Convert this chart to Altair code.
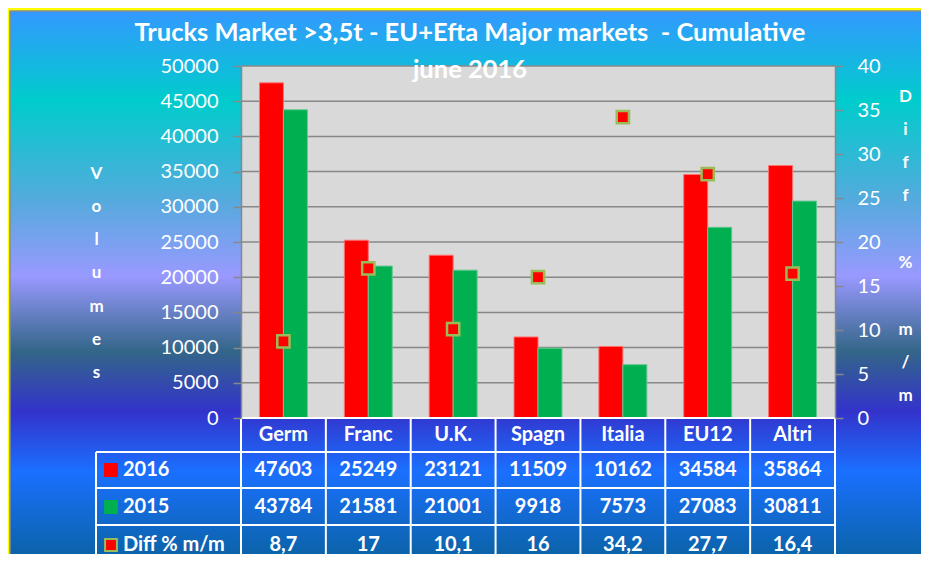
import altair as alt
import pandas as pd

# ---------------- data ----------------
categories = ["Germ", "Franc", "U.K.", "Spagn", "Italia", "EU12", "Altri"]
vol_2016 = [47603, 25249, 23121, 11509, 10162, 34584, 35864]
vol_2015 = [43784, 21581, 21001, 9918, 7573, 27083, 30811]
diff_pct = [8.7, 17, 10.1, 16, 34.2, 27.7, 16.4]
diff_text = ["8,7", "17", "10,1", "16", "34,2", "27,7", "16,4"]
series = ["2016", "2015"]
series_colors = ["#FF0000", "#00B050"]
vol_ticks = list(range(0, 50001, 5000))
diff_ticks = list(range(0, 41, 5))
title_lines = ["Trucks Market >3,5t - EU+Efta Major markets \u00a0- Cumulative", "june 2016"]
left_title = ["V", "o", "l", "u", "m", "e", "s"]
right_title = ["D", "i", "f", "f", "\u2800", "%", "\u2800", "m", "/", "m"]
row_labels = ["2016", "2015", "Diff % m/m"]

# ---------------- layout ----------------
W, H = 594, 352
PL, PT, PR, PB = 233, 58, 86, 136
FONT = "Lato"
GRAY = "#888888"

one = pd.DataFrame({"d": [0]})

bg_gradient = {
    "gradient": "linear", "x1": 0, "y1": 0, "x2": 0, "y2": 1,
    "stops": [
        {"offset": 0.0, "color": "#3399FF"},
        {"offset": 0.164, "color": "#00CCCC"},
        {"offset": 0.348, "color": "#55AADD"},
        {"offset": 0.486, "color": "#9999FF"},
        {"offset": 0.624, "color": "#336688"},
        {"offset": 0.735, "color": "#3333CC"},
        {"offset": 0.845, "color": "#1A70FF"},
        {"offset": 1.0, "color": "#0B63A8"},
    ],
}

background = alt.Chart(one).mark_rect(fill=bg_gradient, stroke="#8A8A8A", strokeWidth=1.5).encode(
    x=alt.value(-PL + 2), x2=alt.value(W + PR + 2), y=alt.value(-PT + 3), y2=alt.value(H + PB + 2)
)

plot_bg = alt.Chart(one).mark_rect(fill="#D9D9D9").encode(
    x=alt.value(0), x2=alt.value(W), y=alt.value(0), y2=alt.value(H)
)

x_enc = alt.X(
    "category:N", sort=categories,
    scale=alt.Scale(domain=categories, paddingInner=0.435, paddingOuter=0.2175),
    axis=None,
)

grid_df = pd.DataFrame({"v": vol_ticks[1:]})
grid = alt.Chart(grid_df).mark_rule(color=GRAY, strokeWidth=1.5).encode(
    y=alt.Y("v:Q", scale=alt.Scale(domain=[0, 50000], nice=False), axis=None)
)

axis_style = dict(
    grid=False, domainColor=GRAY, domainWidth=1.5, tickColor=GRAY, tickSize=8, tickWidth=1.5,
    labelColor="white", labelFont=FONT, labelFontSize=20, labelOverlap=False, format="d",
    titleAngle=0, titleColor="white", titleFont=FONT, titleFontSize=17, titleFontWeight="bold",
    titleLineHeight=33.3, titleAlign="center", titleBaseline="alphabetic", zindex=1,
)

bars_df = pd.DataFrame({
    "category": categories * 2,
    "series": ["2016"] * len(categories) + ["2015"] * len(categories),
    "volume": vol_2016 + vol_2015,
})
bars = alt.Chart(bars_df).mark_bar(strokeWidth=1).encode(
    x=x_enc,
    xOffset=alt.XOffset("series:N", sort=series,
                        scale=alt.Scale(domain=series, paddingInner=0, paddingOuter=0)),
    y=alt.Y("volume:Q", scale=alt.Scale(domain=[0, 50000], nice=False),
            axis=alt.Axis(values=vol_ticks, orient="left", title=left_title, labelPadding=15,
                          titleX=-145, titleY=112, **axis_style)),
    color=alt.Color("series:N", scale=alt.Scale(domain=series, range=series_colors), legend=None),
    stroke=alt.Color("series:N", scale=alt.Scale(domain=series, range=["#FF7070", "#60C890"]), legend=None),
)

diff_df = pd.DataFrame({"category": categories, "diff": diff_pct})
points = alt.Chart(diff_df).mark_point(
    shape="square", size=150, filled=True, fill="#FF0000", stroke="#9BBB59", strokeWidth=2.5, opacity=1
).encode(
    x=x_enc,
    y=alt.Y("diff:Q", scale=alt.Scale(domain=[0, 40], nice=False),
            axis=alt.Axis(values=diff_ticks, orient="right", title=right_title, labelPadding=14,
                          titleX=70, titleY=35, **axis_style)),
)

title = alt.Chart(one).mark_text(
    text=title_lines, lineHeight=37, font=FONT, fontSize=25.5, fontWeight="bold",
    color="white", align="center", baseline="alphabetic",
).encode(x=alt.value(229), y=alt.value(-25))

# ---------------- table ----------------
step = W / len(categories)
table_layers = []
line_style = dict(color="white", strokeWidth=2)
# horizontal lines
table_layers.append(alt.Chart(one).mark_rule(**line_style).encode(
    x=alt.value(0), x2=alt.value(W), y=alt.value(H)))
for yy in [386, 422, 459]:
    table_layers.append(alt.Chart(one).mark_rule(**line_style).encode(
        x=alt.value(-145), x2=alt.value(W), y=alt.value(yy)))
# vertical lines
for i in range(len(categories) + 1):
    table_layers.append(alt.Chart(one).mark_rule(**line_style).encode(
        x=alt.value(i * step), y=alt.value(H), y2=alt.value(H + PB)))
table_layers.append(alt.Chart(one).mark_rule(**line_style).encode(
    x=alt.value(-145), y=alt.value(386), y2=alt.value(H + PB)))

table_df = pd.DataFrame({
    "category": categories,
    "header": categories,
    "r2016": [str(v) for v in vol_2016],
    "r2015": [str(v) for v in vol_2015],
    "rdiff": diff_text,
})
text_style = dict(font=FONT, fontSize=20, fontWeight="bold", color="white", baseline="middle")
for field, yy in [("header", 369), ("r2016", 404), ("r2015", 441), ("rdiff", 479)]:
    table_layers.append(alt.Chart(table_df).mark_text(align="center", **text_style).encode(
        x=x_enc, y=alt.value(yy), text=f"{field}:N"))

row_y = [404, 441, 479]
marker_fill = ["#FF0000", "#00B050", "#FF0000"]
marker_stroke = ["#FF0000", "#00B050", "#9BBB59"]
for lab, yy, f, s in zip(row_labels, row_y, marker_fill, marker_stroke):
    table_layers.append(alt.Chart(one).mark_point(
        shape="square", size=140, filled=True, fill=f, stroke=s, strokeWidth=2, opacity=1
    ).encode(x=alt.value(-130), y=alt.value(yy)))
    table_layers.append(alt.Chart(one).mark_text(text=lab, align="left", **text_style).encode(
        x=alt.value(-118), y=alt.value(yy)))

chart = alt.layer(
    background, plot_bg, grid, bars, points, title, *table_layers
).resolve_scale(
    y="independent", color="independent", stroke="independent"
).properties(
    width=W, height=H,
    autosize=alt.AutoSizeParams(type="none"),
    padding={"left": PL, "top": PT, "right": PR, "bottom": PB},
    background="#FFFF00",
).configure_view(stroke=None)

chart.save("out.html", embed_options={"renderer": "svg", "actions": False})
